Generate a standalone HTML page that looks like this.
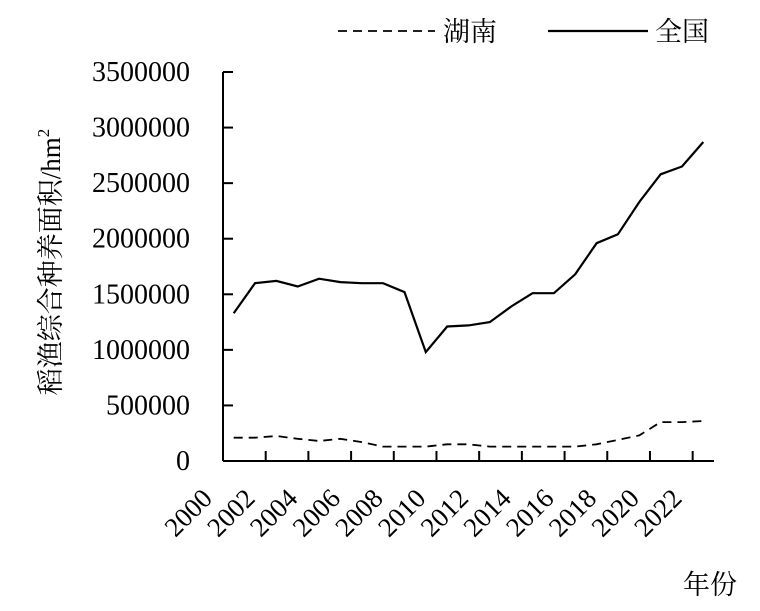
<!DOCTYPE html>
<html><head><meta charset="utf-8"><style>
body{margin:0;background:#fff;}
svg text{font-family:"Liberation Serif","Noto Serif CJK SC",serif;fill:#000;}
</style></head><body>
<svg width="760" height="606" viewBox="0 0 760 606">
<g id="g"></g>
</svg>
<script>
const years=["2000","2001","2002","2003","2004","2005","2006","2007","2008","2009","2010","2011","2012","2013","2014","2015","2016","2017","2018","2019","2020","2021","2022"];
const national=[1330000,1600000,1620000,1570000,1640000,1610000,1600000,1600000,1520000,980000,1210000,1220000,1250000,1390000,1510000,1510000,1680000,1960000,2040000,2330000,2580000,2650000,2870000];
const hunan=[210000,210000,225000,200000,180000,200000,170000,130000,130000,130000,150000,150000,130000,130000,130000,130000,130000,150000,190000,230000,350000,350000,360000];
const yTicks=[0,500000,1000000,1500000,2000000,2500000,3000000,3500000];
const NS="http://www.w3.org/2000/svg";
const g=document.getElementById('g');
const X0=223,X1=714,Y0=461,Y1=72,YMAX=3500000;
const band=(X1-X0)/years.length;
function xc(i){return X0+band*(i+0.5);}
function y(v){return Y0-(v/YMAX)*(Y0-Y1);}
function mk(t,a){const e=document.createElementNS(NS,t);for(const k in a)e.setAttribute(k,a[k]);g.appendChild(e);return e;}
let e;
e=mk('line',{x1:X0,y1:Y1,x2:X0,y2:Y0,stroke:'#000','stroke-width':2});


e=mk('line',{x1:X0,y1:Y0,x2:X1,y2:Y0,stroke:'#000','stroke-width':2});


yTicks.forEach(v=>{
 e=mk('line',{x1:X0,y1:y(v),x2:X0+10,y2:y(v),stroke:'#000','stroke-width':2});
 
 
 e=mk('text',{x:190,y:y(v)+9,'text-anchor':'end','font-size':28});
 e.textContent=String(v);
 
 
});
for(let i=2;i<years.length;i+=2){
 const x=X0+band*i;
 e=mk('line',{x1:x,y1:Y0,x2:x,y2:Y0-10,stroke:'#000','stroke-width':2});
 
 
}
years.forEach((yr,i)=>{
 if(i%2)return;
 const x=xc(i)-20,yy=500;
 e=mk('text',{x:x,y:yy,'text-anchor':'end','font-size':27,transform:`rotate(-45 ${x} ${yy})`});
 e.textContent=yr;
 
 
});
function path(arr){return arr.map((v,i)=>(i?'L':'M')+xc(i).toFixed(1)+' '+y(v).toFixed(1)).join(' ');}
e=mk('path',{d:path(national),fill:'none',stroke:'#000','stroke-width':2.2});


e=mk('path',{d:path(hunan),fill:'none',stroke:'#000','stroke-width':1.8,'stroke-dasharray':'9 6'});


// legend
e=mk('line',{x1:338,y1:31,x2:435,y2:31,stroke:'#000','stroke-width':1.8,'stroke-dasharray':'9 6'});


e=mk('text',{x:443,y:41,'font-size':27});
e.textContent='湖南';


e=mk('line',{x1:548,y1:31,x2:648,y2:31,stroke:'#000','stroke-width':2.2});


e=mk('text',{x:655,y:41,'font-size':27});
e.textContent='全国';


// titles
e=mk('text',{x:0,y:0,'font-size':27,'text-anchor':'middle',transform:'translate(60 262) rotate(-90)'});
e.innerHTML='稻渔综合种养面积/hm<tspan dy="-11" font-size="17">2</tspan>';


e=mk('text',{x:683,y:594,'font-size':27});
e.textContent='年份';


</script>
</body></html>
